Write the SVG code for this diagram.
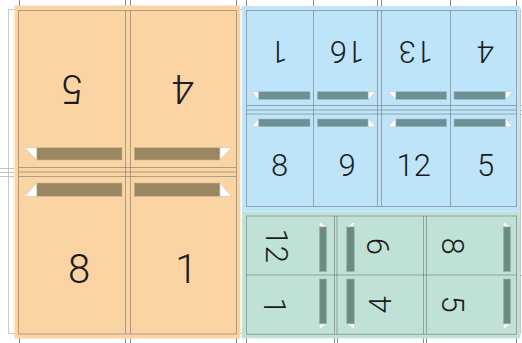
<svg xmlns="http://www.w3.org/2000/svg" width="522" height="343" viewBox="0 0 522 343">
<style>
.sheet{fill:none;stroke:#c9c9c9;stroke-width:1}
.tick{stroke:#8a8a8a;stroke-width:1}
.ltick{stroke:#c4c4c4;stroke-width:1}
.ln{fill:none;stroke:#6e6e6e;stroke-opacity:0.55;stroke-width:1}
.num{font-family:Roboto,"Liberation Sans",sans-serif;font-weight:300;fill:#1c1c1c;text-anchor:middle}
.big{font-size:40px}
.sm{font-size:31px}
.tri{fill:#ffffff;stroke:#c8c8c8;stroke-width:0.6}
.bo{fill:#998762;stroke:#c9b491;stroke-width:0.6}
.bb{fill:#6e8f93;stroke:#9cbac4;stroke-width:0.6}
.bg{fill:#6c8c7f;stroke:#9bbcae;stroke-width:0.6}
</style>
<rect width="522" height="343" fill="#ffffff"/>
<g id="marks">
<rect class="sheet" x="8.5" y="9.5" width="512" height="324"/>
<path class="tick" d="M19.5 0V6M125.5 0V6M130.5 0V6M236.5 0V6M246.5 0V6M313.5 0V6M377.5 0V6M381.5 0V6M450.5 0V6M516.5 0V6"/>
<path class="tick" d="M19.5 338V343M125.5 338V343M130.5 338V343M236.5 338V343M246.5 338V343M334.5 338V343M337.5 338V343M423.5 338V343M426.5 338V343M516.5 338V343"/>
<path class="ltick" d="M0 168.5H14M0 172.5H14M0 176.5H14M520 105.5H522M520 110.5H522M520 114.5H522M520 275.5H522"/>
</g>
<g id="panel-8">
<rect x="14.5" y="5.5" width="226" height="333" fill="#fbd4a4"/>
<rect class="ln" x="18.5" y="10.5" width="218" height="323.5"/>
<path class="ln" d="M125.5 10.5V334M130.5 10.5V334M18.5 167.5H236.5M18.5 172H236.5M18.5 176.5H236.5"/>
<g id="p8-5">
<rect class="bo" x="36.7" y="147.7" width="85.3" height="12.3"/>
<polygon class="tri" points="25,147.7 36.7,147.7 36.7,160"/>
<text class="num big" transform="translate(73,89) rotate(180)" y="14.2">5</text>
</g>
<g id="p8-4">
<rect class="bo" x="134.3" y="147.7" width="85.7" height="12.3"/>
<polygon class="tri" points="220,147.7 231.3,147.7 220,160"/>
<text class="num big" transform="translate(183.5,89) rotate(180)" y="14.2">4</text>
</g>
<g id="p8-8">
<rect class="bo" x="36.7" y="183" width="85.3" height="13.3"/>
<polygon class="tri" points="25,196.3 36.7,183 36.7,196.3"/>
<text class="num big" transform="translate(79,268.5)" y="14.2">8</text>
</g>
<g id="p8-1">
<rect class="bo" x="134.3" y="183" width="85.7" height="13.3"/>
<polygon class="tri" points="220,183 231.3,196.3 220,196.3"/>
<text class="num big" transform="translate(186.3,268.5)" y="14.2">1</text>
</g>
</g>
<g id="panel-16">
<rect x="242" y="6" width="278" height="205.7" fill="#bee4f9"/>
<rect class="ln" x="246.5" y="10.5" width="270" height="196"/>
<path class="ln" d="M313.5 10.5V206.5M377.5 10.5V206.5M381.5 10.5V206.5M450.5 10.5V206.5M246.5 105.5H516.5M246.5 110H516.5M246.5 114H516.5"/>
<g id="p16-1">
<rect class="bb" x="258.3" y="91.7" width="51.7" height="7.6"/>
<polygon class="tri" points="251.7,91.7 258.3,91.7 258.3,99.3"/>
<text class="num sm" transform="translate(278.8,51.7) rotate(180)" y="11">1</text>
</g>
<g id="p16-16">
<rect class="bb" x="317.3" y="91.7" width="51" height="7.6"/>
<polygon class="tri" points="368.3,91.7 375.7,91.7 368.3,99.3"/>
<text class="num sm" transform="translate(347,51.7) rotate(180)" y="11">16</text>
</g>
<g id="p16-13">
<rect class="bb" x="395.7" y="91.7" width="51" height="7.6"/>
<polygon class="tri" points="388.3,91.7 395.7,91.7 395.7,99.3"/>
<text class="num sm" transform="translate(415.8,51.7) rotate(180)" y="11">13</text>
</g>
<g id="p16-4">
<rect class="bb" x="454" y="91.7" width="51.7" height="7.6"/>
<polygon class="tri" points="505.7,91.7 512.7,91.7 505.7,99.3"/>
<text class="num sm" transform="translate(486,51.7) rotate(180)" y="11">4</text>
</g>
<g id="p16-8">
<rect class="bb" x="258.3" y="119" width="51.7" height="7.7"/>
<polygon class="tri" points="251.7,126.7 258.3,119 258.3,126.7"/>
<text class="num sm" transform="translate(279.5,165)" y="11">8</text>
</g>
<g id="p16-9">
<rect class="bb" x="317.3" y="119" width="51" height="7.7"/>
<polygon class="tri" points="368.3,119 375.7,126.7 368.3,126.7"/>
<text class="num sm" transform="translate(347,165)" y="11">9</text>
</g>
<g id="p16-12">
<rect class="bb" x="395.7" y="119" width="51" height="7.7"/>
<polygon class="tri" points="388.3,126.7 395.7,119 395.7,126.7"/>
<text class="num sm" transform="translate(413.8,165)" y="11">12</text>
</g>
<g id="p16-5">
<rect class="bb" x="454" y="119" width="51.7" height="7.7"/>
<polygon class="tri" points="505.7,119 512.7,126.7 505.7,126.7"/>
<text class="num sm" transform="translate(485.5,165)" y="11">5</text>
</g>
</g>
<g id="panel-12">
<rect x="242" y="211.7" width="278" height="126.6" fill="#bfe1d6"/>
<rect class="ln" x="246.5" y="216" width="270" height="118.3"/>
<path class="ln" d="M334.5 216V334.3M337 216V334.3M423.5 216V334.3M426.5 216V334.3M246.5 275H516.5"/>
<g id="p12-12">
<rect class="bg" x="319.3" y="226.7" width="7.4" height="45"/>
<polygon class="tri" points="319.3,221.7 319.3,226.7 326.7,226.7"/>
<text class="num sm" transform="translate(277,245.7) rotate(90)" y="11">12</text>
</g>
<g id="p12-1">
<rect class="bg" x="319.3" y="279" width="7.4" height="45"/>
<polygon class="tri" points="319.3,324 326.7,324 319.3,329.3"/>
<text class="num sm" transform="translate(275,306.2) rotate(90)" y="11">1</text>
</g>
<g id="p12-9">
<rect class="bg" x="346.7" y="226.7" width="7.6" height="45"/>
<polygon class="tri" points="354.3,221.7 354.3,226.7 346.7,226.7"/>
<text class="num sm" transform="translate(377.5,246.5) rotate(-90)" y="11">9</text>
</g>
<g id="p12-4">
<rect class="bg" x="346.7" y="279" width="7.6" height="45"/>
<polygon class="tri" points="346.7,324 354.3,324 354.3,329.3"/>
<text class="num sm" transform="translate(380,305) rotate(-90)" y="11">4</text>
</g>
<g id="p12-8">
<rect class="bg" x="503.3" y="226.7" width="7.4" height="45"/>
<polygon class="tri" points="503.3,221.7 503.3,226.7 510.7,226.7"/>
<text class="num sm" transform="translate(453,246) rotate(90)" y="11">8</text>
</g>
<g id="p12-5">
<rect class="bg" x="503.3" y="279" width="7.4" height="45"/>
<polygon class="tri" points="503.3,324 510.7,324 503.3,329.3"/>
<text class="num sm" transform="translate(452.5,304) rotate(90)" y="11">5</text>
</g>
</g>
</svg>
